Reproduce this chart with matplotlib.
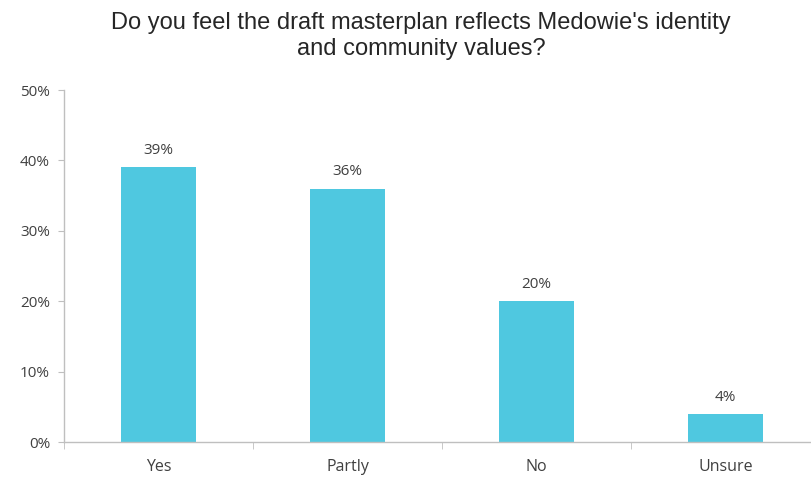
import matplotlib.pyplot as plt

categories = ['Yes', 'Partly', 'No', 'Unsure']
values = [39, 36, 20, 4]
yticks = [0, 10, 20, 30, 40, 50]

bar_color = '#4fc8e0'
text_color = '#404040'
axis_color = '#bfbfbf'

fig = plt.figure(figsize=(8.12, 4.8), dpi=100)
ax = fig.add_axes([64 / 812, 38 / 480, 756 / 812, 352 / 480])

x = range(len(categories))
ax.bar(x, values, width=0.4, color=bar_color, zorder=2)

for xi, v in zip(x, values):
    ax.text(xi, v + 1.3, f'{v}%', ha='center', va='bottom',
            fontsize=11, color=text_color, family='Open Sans')

ax.set_xlim(-0.5, len(categories) - 0.5)
ax.set_ylim(0, 50)
ax.set_yticks(yticks)
ax.set_yticklabels([f'{t}%' for t in yticks], fontsize=11, color=text_color,
                   family='Open Sans')
ax.set_xticks(list(x))
ax.set_xticklabels(categories, fontsize=11.5, color=text_color, family='Open Sans')

# category separators as minor ticks on the x axis
ax.set_xticks([i - 0.5 for i in range(len(categories) + 1)], minor=True)
ax.tick_params(axis='x', which='major', length=0, pad=12)
ax.tick_params(axis='x', which='minor', length=5, color=axis_color)
ax.tick_params(axis='y', length=4, color=axis_color, pad=6)

for side in ['top', 'right']:
    ax.spines[side].set_visible(False)
for side in ['left', 'bottom']:
    ax.spines[side].set_color(axis_color)
    ax.spines[side].set_linewidth(1)

fig.text(421 / 812, 1 - 36 / 480,
         "Do you feel the draft masterplan reflects Medowie's identity\nand community values?",
         ha='center', va='center', fontsize=17, color='#262626',
         family='Liberation Sans', linespacing=1.2)

fig.savefig('out.png', dpi=100)
